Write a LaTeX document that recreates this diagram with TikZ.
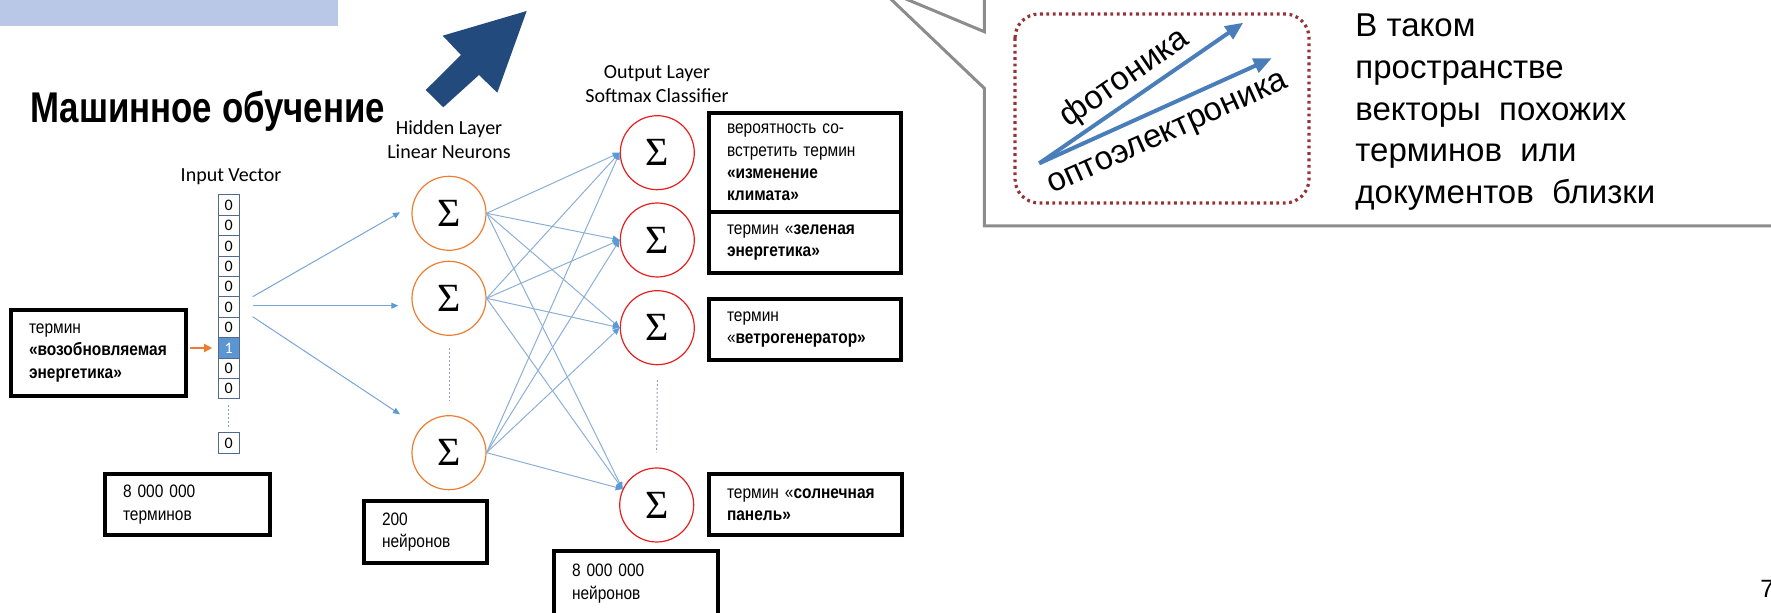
\documentclass[tikz,border=0pt]{standalone}
\usepackage{fontspec}
\setmainfont{Liberation Sans}
\newfontfamily\narrowsans[FakeStretch=0.86]{Liberation Sans}
\newfontfamily\titlesans[FakeStretch=0.81]{Liberation Sans}
\newfontfamily\calfont{Carlito}
\newfontfamily\sigmafont{Liberation Serif}
\usetikzlibrary{arrows.meta,calc}
\hyphenpenalty=10000
\exhyphenpenalty=10000

\definecolor{barblue}{RGB}{185,200,230}
\definecolor{bigarrow}{RGB}{35,74,125}
\definecolor{linkblue}{RGB}{120,165,215}
\definecolor{tipblue}{RGB}{91,155,213}
\definecolor{wireblue}{RGB}{140,175,215}
\definecolor{hidorange}{RGB}{237,125,49}
\definecolor{outred}{RGB}{230,30,30}
\definecolor{celledge}{RGB}{80,105,140}
\definecolor{cellfill}{RGB}{91,150,210}
\definecolor{calloutgray}{RGB}{140,140,140}
\definecolor{dotred}{RGB}{150,50,55}
\definecolor{vecblue}{RGB}{74,126,187}
\definecolor{dotgray}{RGB}{150,160,175}

\tikzset{
  tbox/.style={draw=black, line width=2pt, inner xsep=9pt, inner ysep=0pt,
    align=left, font=\narrowsans\fontsize{9}{11.2}\selectfont},
  hid/.style={circle, draw=hidorange, line width=0.6pt, minimum size=37pt,
    inner sep=0pt, font=\sigmafont\fontsize{20}{20}\selectfont},
  outn/.style={hid, draw=outred},
  cell/.style={draw=celledge, line width=0.5pt, minimum width=10.5pt,
    minimum height=10.2pt, inner sep=0pt, font=\calfont\fontsize{8}{8}\selectfont},
  link/.style={draw=linkblue, line width=0.5pt,
    -{Triangle[length=3.5pt,width=3pt,color=tipblue]}},
  wire/.style={draw=wireblue, line width=0.5pt,
    -{Triangle[length=3.5pt,width=3pt,color=tipblue]}},
  layerlabel/.style={font=\calfont\fontsize{10}{12}\selectfont, align=center, inner sep=0pt},
  gapline/.style={draw=dotgray, line width=0.5pt, dash pattern=on 1pt off 1pt},
  vec/.style={draw=vecblue, line width=2pt, -{Triangle[length=9pt,width=7.5pt]}},
}

\begin{document}
\begin{tikzpicture}[x=0.5pt,y=-0.5pt]
\useasboundingbox (0,0) rectangle (1771,613);
\clip (0,0) rectangle (1771,613);

% header strip and the big arrow
\fill[barblue] (0,0) rectangle (337.7,26);
\fill[bigarrow] (526.7,11) -- (442.7,35.7) -- (461,55) -- (425.7,90)
  -- (443.3,107.3) -- (479,75) -- (497.3,92.7) -- cycle;

% title
\node[anchor=base west, inner sep=0pt,
  font=\titlesans\bfseries\fontsize{21.5}{21.5}\selectfont] (title) at (30,123) {Машинное обучение};

% layer captions
\node[layerlabel] (inlab) at (231,177) {Input Vector};
\node[layerlabel] (hidlab) at (449,140) {Hidden Layer\\Linear Neurons};
\node[layerlabel] (outlab) at (657,84) {Output Layer\\Softmax Classifier};

% one-hot input vector
\node[cell] (c0) at (228.7,205.2) {0};
\node[cell] (c1) at (228.7,225.6) {0};
\node[cell] (c2) at (228.7,246.0) {0};
\node[cell] (c3) at (228.7,266.4) {0};
\node[cell] (c4) at (228.7,286.8) {0};
\node[cell] (c5) at (228.7,307.2) {0};
\node[cell] (c6) at (228.7,327.6) {0};
\node[cell, fill=cellfill, text=white] (c7) at (228.7,348.0) {1};
\node[cell] (c8) at (228.7,368.4) {0};
\node[cell] (c9) at (228.7,388.8) {0};
\node[cell] (clast) at (228.7,443.0) {0};
\draw[gapline, draw=linkblue] ([yshift=-3pt]c9.south) -- ([yshift=1.5pt]clast.north);

% hidden layer
\node[hid] (h1) at (449,213.3) {Σ};
\node[hid] (h2) at (449,298.3) {Σ};
\node[hid] (h3) at (449,452.7) {Σ};
\draw[gapline] ([yshift=-6pt]h2.south) -- ([yshift=7pt]h3.north);

% output layer
\node[outn] (o1) at (657.3,152.7) {Σ};
\node[outn] (o2) at (657.3,240.0) {Σ};
\node[outn] (o3) at (657.3,327.7) {Σ};
\node[outn] (o4) at (656.7,505.0) {Σ};
\draw[gapline] ([yshift=-7.3pt]o3.south) -- ([yshift=7.5pt]o4.north);

% input to hidden
\coordinate (ia) at (252.7,296.7);
\coordinate (ib) at (252.7,305.7);
\coordinate (ic) at (252.7,316.7);
\coordinate (ha) at (400,212.3);
\coordinate (hb) at (398.3,305.7);
\coordinate (hc) at (400,414.3);
\draw[link] (ia) -- (ha);
\draw[link] (ib) -- (hb);
\draw[link] (ic) -- (hc);

% hidden to output, fully connected
\foreach \h in {h1,h2,h3}{
  \draw[wire] (\h.east) -- (o1.west);
  \draw[wire] (\h.east) -- (o2.west);
  \draw[wire] (\h.east) -- (o3.west);
  \draw[wire] (\h.east) -- (o4.155);
}

% annotation boxes
\node[tbox, minimum width=87.5pt, minimum height=43pt, text width=69.5pt] (box1) at (98.5,353)
  {термин\\\textbf{«возобновляемая}\\\textbf{энергетика»}};
\node[tbox, minimum width=82.5pt, minimum height=30.5pt, text width=64.5pt] (bterms) at (187.5,504.5)
  {8 000 000\\терминов};
\node[tbox, minimum width=61.5pt, minimum height=31pt, text width=43.5pt] (bhid) at (425.5,532)
  {200\\нейронов};
\node[tbox, minimum width=82pt, minimum height=32.5pt, text width=64pt] (bout) at (636,583.5)
  {8 000 000\\нейронов};
\node[tbox, minimum width=96pt, minimum height=49.5pt, text width=78pt] (bclim) at (805,162.5)
  {вероятность со-\\встретить термин\\\textbf{«изменение}\\\textbf{климата»}};
\node[tbox, minimum width=96pt, minimum height=30.5pt, text width=78pt] (bgreen) at (805,242.5)
  {термин «\textbf{зеленая}\\\textbf{энергетика»}};
\node[tbox, minimum width=96pt, minimum height=30.5pt, text width=78pt] (bwind) at (805,329.5)
  {термин\\«\textbf{ветрогенератор»}};
\node[tbox, minimum width=96.5pt, minimum height=30.5pt, text width=78.5pt] (bsolar) at (805.5,504.5)
  {термин «\textbf{солнечная}\\\textbf{панель»}};

\draw[draw=hidorange, line width=0.9pt, -{Triangle[length=4pt,width=4pt]},
  shorten <=1pt, shorten >=2.75pt] (box1.east |- c7.west) -- (c7.west);

% callout with the vector-space sketch
\draw[calloutgray, line width=1.5pt, line join=miter]
  (984.3,-10) -- (984.3,31.7) -- (878.9,-12.3) -- (984.3,88.3) -- (984.3,226) -- (1800,226);
\draw[dotred, line width=1.6pt, dash pattern=on 1.4pt off 1.8pt, rounded corners=12pt]
  (1015,14) rectangle (1309,203);
\coordinate (v0) at (1039.3,163.3);
\coordinate (vf) at (1243.3,22.7);
\coordinate (vo) at (1271.7,58.3);
\draw[vec] (v0) -- (vf);
\draw[vec] (v0) -- (vo);
\node[rotate=34.6, inner sep=0pt, font=\fontsize{16.5}{16.5}\selectfont] (tf) at (1125,78.5) {фотоника};
\node[rotate=24.3, inner sep=0pt, font=\fontsize{16.5}{16.5}\selectfont] (to) at (1169,135.5) {оптоэлектроника};

\node[anchor=north west, inner sep=0pt, align=left, font=\fontsize{16.5}{20.9}\selectfont] (para) at (1355,13.5)
  {В таком\\пространстве\\векторы\ \ похожих\\терминов\ \ или\\документов\ \ близки};

% slide number
\node[anchor=base west, inner sep=0pt, font=\fontsize{12.5}{12.5}\selectfont] (pg) at (1760,598) {7};
\end{tikzpicture}
\end{document}
